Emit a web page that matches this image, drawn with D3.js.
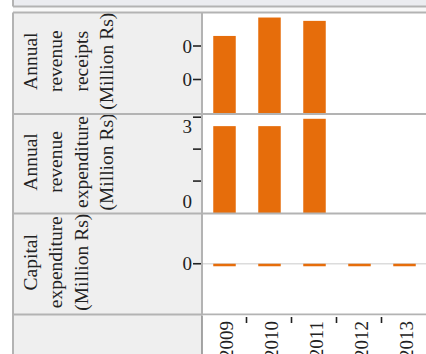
<!DOCTYPE html>
<html><head><meta charset="utf-8">
<script src="https://cdn.jsdelivr.net/npm/d3@7"></script>
<style>html,body{margin:0;padding:0;background:#fff;overflow:hidden}</style>
</head><body>
<svg id="c" width="426" height="354"></svg>
<script>
const years = ["2009","2010","2011","2012","2013"];
const receipts = [0.46, 0.57, 0.55, null, null];
const expenditure = [2.72, 2.72, 2.95, null, null];
const capital = [-0.05, -0.05, -0.05, -0.05, -0.05];
const receiptsTicks = [0.2, 0.4];
const receiptsLabels = [0.2, 0.4];
const expenditureTicks = [1, 2, 3];
const expenditureLabels = [0, 3];
const capitalTicks = [0];
const capitalLabels = [0];
const rowTitles = [
  ["Annual","revenue","receipts","(Million Rs)"],
  ["Annual","revenue","expenditure","(Million Rs)"],
  ["Capital","expenditure","(Million Rs)"]
];

const FONT = "'Liberation Serif', 'Times New Roman', serif";
const ORANGE = "#e66d0b";
const BORDER = "#b3b3b3";
const PANEL = "#efefef";
const svg = d3.select("#c");
const panelLeft = 13, plotLeft = 202, plotRight = 430;

const x = d3.scaleBand().domain(years).range([202, 427]).paddingInner(0.5).paddingOuter(0.25);

const rows = [
  {top: 12.5, bottom: 113, vals: receipts, domain: [0, 0.6], ticks: receiptsTicks, labels: receiptsLabels, fmt: d3.format(".0f")},
  {top: 114, bottom: 213, vals: expenditure, domain: [0, 3.1], ticks: expenditureTicks, labels: expenditureLabels, fmt: d3.format("d")},
  {top: 213.5, bottom: 314, vals: capital, domain: [-1, 1], ticks: capitalTicks, labels: capitalLabels, fmt: d3.format("d"), zero: true}
];

svg.append("rect").attr("x", panelLeft).attr("y", 0).attr("width", 426).attr("height", 6).attr("fill", "#ebecf0");
svg.append("rect").attr("x", panelLeft).attr("y", 7).attr("width", 426).attr("height", 5.5).attr("fill", "#f8f8f8");
svg.append("line").attr("x1", panelLeft).attr("x2", 430).attr("y1", 6.5).attr("y2", 6.5).attr("stroke", BORDER).attr("stroke-width", 2);
svg.append("line").attr("x1", panelLeft).attr("x2", panelLeft).attr("y1", 0).attr("y2", 6.5).attr("stroke", BORDER).attr("stroke-width", 2);

svg.append("rect").attr("x", panelLeft).attr("y", 12.5).attr("width", plotLeft - panelLeft).attr("height", 354 - 12.5).attr("fill", PANEL);

rows.forEach((r, i) => {
  const y = d3.scaleLinear().domain(r.domain).range([r.bottom, r.top]);
  const g = svg.append("g");
  g.append("rect").attr("x", plotLeft).attr("y", r.top).attr("width", plotRight - plotLeft).attr("height", r.bottom - r.top).attr("fill", "#fff");
  if (r.zero) {
    g.append("line").attr("x1", plotLeft).attr("x2", plotRight).attr("y1", y(0)).attr("y2", y(0)).attr("stroke", "#dcdcdc").attr("stroke-width", 1.5);
  }
  const data = years.map((yr, k) => ({yr, v: r.vals[k]})).filter(d => d.v != null);
  g.selectAll("rect.bar").data(data).join("rect").attr("class", "bar")
    .attr("x", d => x(d.yr)).attr("width", x.bandwidth())
    .attr("y", d => Math.min(y(d.v), y(0))).attr("height", d => Math.abs(y(d.v) - y(0)))
    .attr("fill", ORANGE);
  g.selectAll("line.tick").data(r.ticks).join("line").attr("class", "tick")
    .attr("x1", plotLeft - 9).attr("x2", plotLeft).attr("y1", d => y(d)).attr("y2", d => y(d))
    .attr("stroke", "#222").attr("stroke-width", 1.6);
  g.selectAll("text.tl").data(r.labels).join("text").attr("class", "tl")
    .attr("x", 192).attr("y", d => {
      const py = y(d);
      if (py > r.bottom - 8) return py - 12;
      if (py < r.top + 8) return py + 9;
      return py;
    })
    .attr("dy", "0.35em").attr("text-anchor", "end")
    .attr("font-family", FONT).attr("font-size", 19).attr("fill", "#222")
    .text(d => r.fmt(d));
  const cy = (r.top + r.bottom) / 2 - 1.5;
  const t = g.append("text").attr("transform", `translate(37,${cy}) rotate(-90)`)
    .attr("text-anchor", "middle").attr("font-family", FONT).attr("font-size", 19.5).attr("fill", "#222");
  rowTitles[i].forEach((line, k) => {
    t.append("tspan").attr("x", 0).attr("y", k * 25.3).text(line);
  });
  g.append("line").attr("x1", panelLeft).attr("x2", plotRight).attr("y1", r.top).attr("y2", r.top).attr("stroke", BORDER).attr("stroke-width", 2);
  g.append("line").attr("x1", plotLeft).attr("x2", plotLeft).attr("y1", r.top).attr("y2", r.bottom).attr("stroke", BORDER).attr("stroke-width", 2);
});
svg.append("line").attr("x1", panelLeft).attr("x2", plotRight).attr("y1", 314.5).attr("y2", 314.5).attr("stroke", BORDER).attr("stroke-width", 2);
svg.append("line").attr("x1", panelLeft).attr("x2", panelLeft).attr("y1", 12.5).attr("y2", 354).attr("stroke", BORDER).attr("stroke-width", 2);

svg.append("rect").attr("x", plotLeft).attr("y", 315.5).attr("width", plotRight - plotLeft).attr("height", 40).attr("fill", "#fff");
svg.append("line").attr("x1", plotLeft).attr("x2", plotLeft).attr("y1", 315.5).attr("y2", 354).attr("stroke", "#888").attr("stroke-width", 1.5);
svg.append("line").attr("x1", plotLeft).attr("x2", plotLeft).attr("y1", 300).attr("y2", 315).attr("stroke", BORDER).attr("stroke-width", 2);
const step = x.step();
svg.selectAll("line.xt").data(years.slice(1)).join("line").attr("class", "xt")
  .attr("x1", d => x(d) - step * x.paddingInner() / 2 - 0.5).attr("x2", d => x(d) - step * x.paddingInner() / 2 - 0.5)
  .attr("y1", 317).attr("y2", 323).attr("stroke", "#222").attr("stroke-width", 1.6);
svg.selectAll("text.xl").data(years).join("text").attr("class", "xl")
  .attr("transform", d => `translate(${x(d) + x.bandwidth() / 2 + 1.5},321) rotate(-90)`)
  .attr("text-anchor", "end").attr("dy", "0.35em")
  .attr("font-family", FONT).attr("font-size", 19).attr("fill", "#222")
  .text(d => d);
</script>
</body></html>
